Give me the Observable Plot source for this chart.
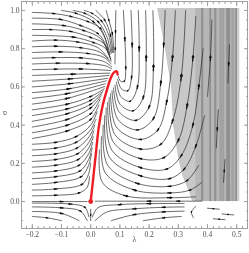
<!DOCTYPE html>
<html><head><meta charset="utf-8">
<script src="https://cdn.jsdelivr.net/npm/d3@7"></script>
<script src="https://cdn.jsdelivr.net/npm/@observablehq/plot@0.6"></script>
<style>body{margin:0;background:#fff}#chart{will-change:transform}svg{display:block}</style>
</head><body><div id="chart"></div>
<script>
// ---- tick values ----
const lambdaTicks = [-0.2, -0.1, 0, 0.1, 0.2, 0.3, 0.4, 0.5];
const sigmaTicks = [0, 0.2, 0.4, 0.6, 0.8, 1.0];

// ---- streamlines ([λ, σ] points, in flow order) ----
const leftUpperLines = [
  [[0.06,0.79],[0.05,0.85],[0.034,0.906],[-0.01,0.942],[-0.068,0.969],[-0.127,0.984],[-0.2,0.99]],
  [[0.06,0.775],[0.045,0.84],[0.024,0.88],[-0.034,0.921],[-0.103,0.953],[-0.2,0.96]],
  [[0.065,0.76],[0.034,0.853],[-0.024,0.895],[-0.092,0.921],[-0.2,0.93]],
  [[0.068,0.745],[0.045,0.827],[0,0.859],[-0.068,0.89],[-0.137,0.9],[-0.2,0.9]],
  [[0.07,0.735],[0.051,0.801],[0.01,0.832],[-0.058,0.86],[-0.2,0.87]],
  [[0.06,0.75],[0.024,0.806],[-0.045,0.835],[-0.12,0.845],[-0.2,0.84]],
  [[0.065,0.735],[0.034,0.78],[-0.034,0.805],[-0.12,0.813],[-0.2,0.81]],
  [[0.07,0.72],[0.045,0.755],[-0.01,0.775],[-0.103,0.783],[-0.2,0.78]],
  [[0.072,0.705],[0.045,0.733],[-0.034,0.752],[-0.127,0.753],[-0.2,0.75]],
  [[0.072,0.695],[0.051,0.71],[-0.01,0.722],[-0.113,0.724],[-0.2,0.72]],
  [[0.068,0.686],[-0.034,0.694],[-0.12,0.693],[-0.2,0.69]]
];
const leftMiddleLines = [
  [[0.065,0.672],[-0.06,0.667],[-0.2,0.66]],
  [[0.062,0.66],[-0.07,0.642],[-0.2,0.63]],
  [[0.058,0.645],[-0.07,0.617],[-0.2,0.6]],
  [[0.054,0.632],[-0.075,0.59],[-0.2,0.57]],
  [[0.05,0.617],[-0.08,0.565],[-0.2,0.54]],
  [[0.048,0.602],[-0.08,0.54],[-0.2,0.51]],
  [[0.046,0.59],[0,0.55],[-0.08,0.51],[-0.2,0.48]],
  [[0.043,0.58],[0,0.53],[-0.08,0.485],[-0.2,0.45]],
  [[0.04,0.57],[0,0.51],[-0.08,0.46],[-0.2,0.42]],
  [[0.036,0.555],[0,0.49],[-0.08,0.43],[-0.2,0.39]],
  [[0.032,0.535],[0,0.46],[-0.08,0.4],[-0.2,0.36]],
  [[0.028,0.505],[0,0.43],[-0.08,0.37],[-0.2,0.33]]
];
const leftLowerLines = [
  [[0.022,0.47],[0,0.4],[-0.05,0.34],[-0.12,0.31],[-0.2,0.3]],
  [[0.018,0.43],[-0.003,0.37],[-0.05,0.31],[-0.12,0.28],[-0.2,0.27]],
  [[0.014,0.4],[-0.005,0.34],[-0.047,0.28],[-0.12,0.25],[-0.2,0.24]],
  [[0.011,0.37],[-0.006,0.31],[-0.045,0.25],[-0.12,0.22],[-0.2,0.21]],
  [[0.009,0.34],[-0.007,0.28],[-0.043,0.22],[-0.12,0.19],[-0.2,0.18]],
  [[0.007,0.31],[-0.007,0.25],[-0.04,0.19],[-0.12,0.16],[-0.2,0.15]],
  [[0.005,0.28],[-0.007,0.22],[-0.037,0.16],[-0.12,0.13],[-0.2,0.12]],
  [[0.003,0.25],[-0.007,0.19],[-0.033,0.13],[-0.12,0.1],[-0.2,0.09]],
  [[0,0.2],[-0.008,0.14],[-0.03,0.09],[-0.12,0.066],[-0.2,0.06]],
  [[-0.004,0.13],[-0.012,0.075],[-0.04,0.045],[-0.12,0.033],[-0.2,0.03]],
  [[-0.012,0.0],[-0.1,0.0],[-0.2,0.0]]
];
const topLines = [
  [[0.066,0.77],[0.048,0.86],[0.01,0.94],[-0.05,0.985],[-0.1,1.0]],
  [[0.07,0.775],[0.056,0.86],[0.026,0.94],[-0.02,0.985],[-0.06,1.0]],
  [[0.073,0.78],[0.062,0.87],[0.037,0.945],[0.005,0.985],[-0.022,1.0]],
  [[0.076,0.78],[0.068,0.87],[0.048,0.95],[0.018,1.0]],
  [[0.079,0.78],[0.074,0.88],[0.062,0.95],[0.053,1.0]],
  [[0.083,0.72],[0.084,0.8],[0.085,0.89],[0.086,1.0]]
];
const rightLines = [
  [[0.095,0.655],[0.102,0.63],[0.115,0.63],[0.12,0.7],[0.117,0.85],[0.112,1.0]],
  [[0.092,0.64],[0.105,0.59],[0.127,0.58],[0.14,0.65],[0.142,0.82],[0.138,1.0]],
  [[0.088,0.625],[0.103,0.55],[0.135,0.525],[0.16,0.6],[0.166,0.8],[0.163,1.0]],
  [[0.083,0.61],[0.1,0.51],[0.145,0.475],[0.18,0.545],[0.19,0.75],[0.188,1.0]],
  [[0.078,0.595],[0.097,0.47],[0.155,0.425],[0.2,0.495],[0.215,0.7],[0.213,1.0]],
  [[0.073,0.58],[0.093,0.43],[0.16,0.375],[0.215,0.435],[0.24,0.62],[0.25,0.82],[0.255,1.0]],
  [[0.068,0.565],[0.088,0.39],[0.17,0.325],[0.23,0.375],[0.26,0.52],[0.28,0.75],[0.29,1.0]],
  [[0.063,0.545],[0.083,0.35],[0.17,0.275],[0.24,0.3],[0.28,0.42],[0.31,0.65],[0.325,1.0]],
  [[0.058,0.52],[0.078,0.31],[0.17,0.225],[0.25,0.23],[0.3,0.32],[0.33,0.5],[0.35,0.75],[0.36,0.97]],
  [[0.053,0.49],[0.072,0.27],[0.17,0.178],[0.26,0.17],[0.31,0.24],[0.35,0.4],[0.37,0.6],[0.385,0.8]],
  [[0.048,0.45],[0.065,0.23],[0.17,0.135],[0.27,0.12],[0.32,0.17],[0.36,0.29],[0.39,0.45]],
  [[0.043,0.4],[0.058,0.19],[0.16,0.095],[0.27,0.08],[0.33,0.11],[0.37,0.19]],
  [[0.037,0.34],[0.05,0.15],[0.15,0.06],[0.27,0.045],[0.34,0.06],[0.38,0.1]],
  [[0.03,0.27],[0.04,0.1],[0.12,0.03],[0.27,0.02],[0.36,0.025]],
  [[0.015,0.002],[0.1,0.002],[0.2,0.002],[0.3,0.002],[0.38,0.002]]
];
const belowLines = [
  [[-0.006,-0.08],[-0.02,-0.03],[-0.07,-0.013],[-0.2,-0.008]],
  [[-0.012,-0.1],[-0.035,-0.05],[-0.1,-0.033],[-0.2,-0.028]],
  [[-0.04,-0.1],[-0.1,-0.062],[-0.2,-0.052]],
  [[-0.1,-0.1],[-0.15,-0.085],[-0.2,-0.078]],
  [[0.006,-0.08],[0.025,-0.032],[0.1,-0.016],[0.2,-0.011],[0.32,-0.01]],
  [[0.015,-0.1],[0.055,-0.055],[0.15,-0.038],[0.25,-0.03],[0.32,-0.028]],
  [[0.07,-0.1],[0.15,-0.068],[0.25,-0.054],[0.32,-0.05]],
  [[0.18,-0.1],[0.25,-0.085],[0.31,-0.078]],
  [[0,-0.1],[0,-0.04]],
  [[0.36,-0.025],[0.345,-0.055],[0.352,-0.085]],
  [[0.4,-0.035],[0.44,-0.04]],
  [[0.45,-0.065],[0.49,-0.07]],
  [[0.42,-0.09],[0.46,-0.095]]
];
const grayLines = [
  [[0.4,0.55],[0.41,0.75],[0.415,0.95]],
  [[0.43,0.28],[0.437,0.48]],
  [[0.47,0.62],[0.475,0.82]],
  [[0.455,0.1],[0.46,0.22]]
];

// ---- red trajectory ----
const redLambda = [0, 0.007, 0.017, 0.027, 0.041, 0.055, 0.068, 0.079, 0.089, 0.092];
const redSigma  = [0, 0.099, 0.241, 0.382, 0.503, 0.581, 0.644, 0.675, 0.681, 0.665];

// ---- shaded region ----
const grayEdgeLambda = [0.229, 0.253, 0.277, 0.284, 0.301, 0.315, 0.339, 0.349];
const grayEdgeSigma  = [1.01, 0.827, 0.597, 0.398, 0.225, 0.136, 0.047, 0.0];
const grayRightLambda = 0.51;
const stripeFrom  = [0.36, 0.380, 0.408, 0.425, 0.442, 0.466, 0.483, 0.497, 0.503];
const stripeTo    = [0.51, 0.387, 0.414, 0.432, 0.459, 0.479, 0.493, 0.503, 0.51];
const stripeShade = ["#b6b6b6", "#909090", "#909090", "#909090", "#a2a2a2", "#909090", "#a4a4a4", "#909090", "#d0d0d0"];

// ---- build tables ----
const allLines = [...leftUpperLines, ...leftMiddleLines, ...leftLowerLines, ...topLines, ...rightLines, ...belowLines, ...grayLines];
const streamRows = [];
allLines.forEach((line, id) => line.forEach(([l, s], i) => streamRows.push({id, i, l, s})));

const arrowRows = [];
allLines.forEach(line => {
  const n = line.length, f = 0.03;
  if (n === 2) {
    const [a, b] = line, c = [(a[0]+b[0])/2, (a[1]+b[1])/2];
    arrowRows.push({x1: c[0]-0.04*(b[0]-a[0]), y1: c[1]-0.04*(b[1]-a[1]), x2: c[0]+0.04*(b[0]-a[0]), y2: c[1]+0.04*(b[1]-a[1])});
    return;
  }
  for (let i = 1; i <= n - 2; i++) {
    if (i === 1 && n >= 5) continue;
    const p = line[i-1], c = line[i], q = line[i+1];
    arrowRows.push({x1: c[0]-f*(q[0]-p[0]), y1: c[1]-f*(q[1]-p[1]), x2: c[0]+f*(q[0]-p[0]), y2: c[1]+f*(q[1]-p[1])});
  }
});

const redRows = redLambda.map((l, i) => ({l, s: redSigma[i]}));
const grayRows = grayEdgeLambda.map((l, i) => ({l, s: grayEdgeSigma[i], r: grayRightLambda}));
const stripeRows = stripeFrom.map((a, i) => ({a, b: stripeTo[i], c: stripeShade[i]}));

const fmt = d3.format(".1f");
const lambdaMinor = d3.range(-0.22, 0.53, 0.02).map(v => +v.toFixed(2));
const sigmaMinor = d3.range(-0.1, 1.04, 0.05).map(v => +v.toFixed(2));
const frameColor = "#a0a0a0";
const txt = "#505050";

const chart = Plot.plot({
  width: 249, height: 253,
  marginLeft: 21, marginRight: 2, marginTop: 1, marginBottom: 25,
  x: {domain: [-0.237, 0.537]},
  y: {domain: [-0.141, 1.047]},
  style: {fontFamily: "'Liberation Serif', serif", fontSize: "7.5px", background: "transparent", color: txt},
  marks: [
    Plot.areaX(grayRows, {y: "s", x1: "l", x2: "r", fill: "#c8c8c8"}),
    Plot.rect(stripeRows, {x1: "a", x2: "b", y1: 0, y2: 1.01, fill: "c"}),
    Plot.line(streamRows, {x: "l", y: "s", z: "id", curve: "catmull-rom", stroke: "#2a2a2a", strokeWidth: 0.7}),
    Plot.arrow(arrowRows, {x1: "x1", y1: "y1", x2: "x2", y2: "y2", stroke: "#111", strokeWidth: 1.3, headLength: 4, headAngle: 50}),
    Plot.line(redRows, {x: "l", y: "s", curve: "catmull-rom", stroke: "#ee1c25", strokeWidth: 2.4, strokeLinecap: "round"}),
    Plot.dot([{l: redLambda[0], s: redSigma[0]}], {x: "l", y: "s", r: 2.4, fill: "#ee1c25"}),
    Plot.frame({stroke: frameColor}),
    Plot.axisX(lambdaTicks, {anchor: "bottom", tickSize: -4, tickFormat: () => "", label: null, stroke: frameColor}),
    Plot.axisX(lambdaTicks, {anchor: "top", tickSize: -4, tickFormat: () => "", label: null, stroke: frameColor}),
    Plot.axisX(lambdaMinor, {anchor: "bottom", tickSize: -2, tickFormat: () => "", label: null, stroke: frameColor}),
    Plot.axisX(lambdaMinor, {anchor: "top", tickSize: -2, tickFormat: () => "", label: null, stroke: frameColor}),
    Plot.axisY(sigmaTicks, {anchor: "left", tickSize: -4, tickFormat: () => "", label: null, stroke: frameColor}),
    Plot.axisY(sigmaTicks, {anchor: "right", tickSize: -4, tickFormat: () => "", label: null, stroke: frameColor}),
    Plot.axisY(sigmaMinor, {anchor: "left", tickSize: -2, tickFormat: () => "", label: null, stroke: frameColor}),
    Plot.axisY(sigmaMinor, {anchor: "right", tickSize: -2, tickFormat: () => "", label: null, stroke: frameColor}),
    Plot.axisX(lambdaTicks, {anchor: "bottom", tickSize: 0, tickPadding: 3, tickFormat: fmt, label: null, fill: txt}),
    Plot.axisY(sigmaTicks, {anchor: "left", tickSize: 0, tickPadding: 2, tickFormat: fmt, label: null, fill: txt}),
    Plot.text(["λ"], {text: d => d, frameAnchor: "bottom", dy: 13, fontSize: 8, fill: txt}),
    Plot.text(["σ"], {text: d => d, frameAnchor: "left", dx: -17, rotate: -90, fontSize: 8, fill: txt})
  ]
});
document.getElementById("chart").append(chart);
</script>
</body></html>
